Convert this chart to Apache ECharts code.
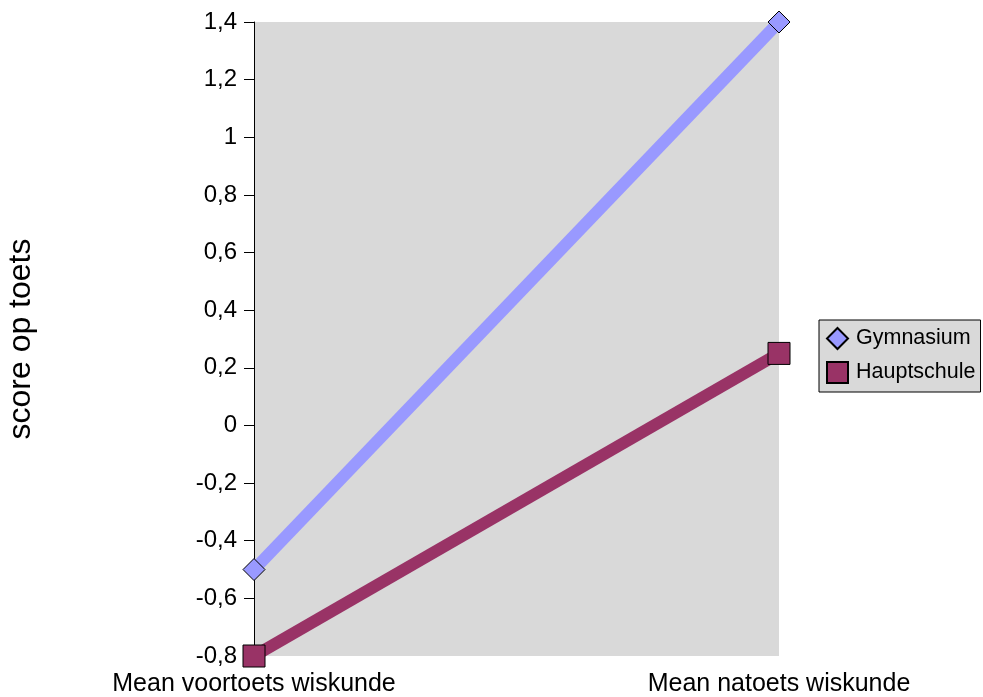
<!DOCTYPE html>
<html><head><meta charset="utf-8">
<script src="https://cdn.jsdelivr.net/npm/echarts@6/dist/echarts.min.js"></script>
<style>html,body{margin:0;padding:0;background:#fff}#c{width:983px;height:697px}</style>
</head><body><div id="c"></div>
<script>
const categories = ['Mean voortoets wiskunde', 'Mean natoets wiskunde'];
const gymnasium = [-0.5, 1.4];
const hauptschule = [-0.8, 0.25];
const yTicks = {min: -0.8, max: 1.4, interval: 0.2};
const seriesNames = ['Gymnasium', 'Hauptschule'];
const yName = 'score op toets';

const FONT = '"Liberation Sans", Arial, sans-serif';
const chart = echarts.init(document.getElementById('c'));
chart.setOption({
  animation: false,
  textStyle: {fontFamily: FONT, color: '#000'},
  grid: {left: 254, right: 204, top: 22, bottom: 41, show: true, backgroundColor: '#d9d9d9', borderWidth: 0,
         containLabel: false, outerBoundsMode: 'none'},
  legend: {
    orient: 'vertical', left: 819, top: 320,
    backgroundColor: '#d9d9d9', borderColor: '#000', borderWidth: 1, borderRadius: 0,
    padding: [7, 5, 8, 7], itemGap: 11, itemWidth: 21, itemHeight: 21,
    textStyle: {fontSize: 21.5, fontFamily: FONT, color: '#000', padding: [0, 0, 0, 3]},
    data: [{name: seriesNames[0], icon: 'diamond'}, {name: seriesNames[1], icon: 'rect'}]
  },
  xAxis: {
    type: 'category', data: categories, boundaryGap: false,
    axisLine: {show: false}, axisTick: {show: false},
    axisLabel: {fontSize: 25, color: '#000', margin: 16, fontFamily: FONT},
    splitLine: {show: false}
  },
  yAxis: {
    type: 'value', min: yTicks.min, max: yTicks.max, interval: yTicks.interval,
    name: yName, nameLocation: 'middle', nameRotate: 90, nameGap: 217,
    nameTextStyle: {fontSize: 32, color: '#000', fontFamily: FONT},
    axisLine: {show: true, lineStyle: {color: '#000', width: 1}},
    axisTick: {show: true, length: 10, lineStyle: {color: '#000'}},
    axisLabel: {fontSize: 24, color: '#000', margin: 17, fontFamily: FONT,
      formatter: v => String(Number(v.toFixed(1))).replace('.', ',')},
    splitLine: {show: false}
  },
  series: [
    {name: seriesNames[0], type: 'line', data: gymnasium, symbol: 'diamond', symbolSize: 22,
     itemStyle: {color: '#9999ff', borderColor: '#000', borderWidth: 1},
     lineStyle: {color: '#9999ff', width: 12}, z: 3},
    {name: seriesNames[1], type: 'line', data: hauptschule, symbol: 'rect', symbolSize: 22,
     itemStyle: {color: '#993366', borderColor: '#000', borderWidth: 1},
     lineStyle: {color: '#993366', width: 12}, z: 2}
  ]
});
</script></body></html>
